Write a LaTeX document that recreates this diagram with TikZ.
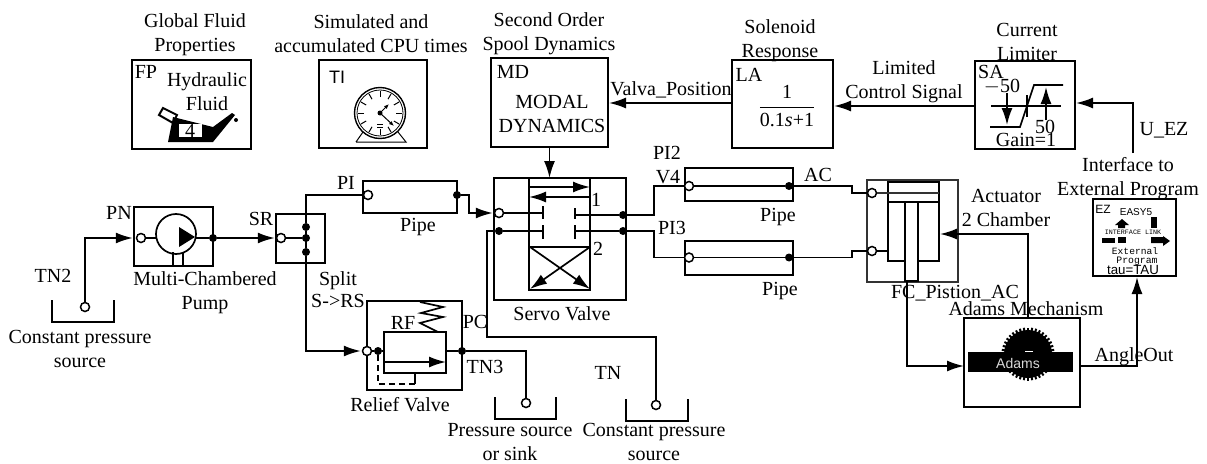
\documentclass[tikz,border=0pt]{standalone}
\usepackage{fontspec}
\setmainfont{Liberation Serif}
\setsansfont{Liberation Sans}
\setmonofont{Liberation Mono}
\usepackage{tikz}
\usetikzlibrary{arrows.meta}
\tikzset{>={Latex[length=17pt,width=11pt]}}
\tikzset{lbl/.style={inner sep=0pt,align=center,font=\fontsize{20}{24}\selectfont}}
\tikzset{blockbox/.style={draw,line width=1.6pt,inner sep=0pt,outer sep=0pt}}
\tikzset{openport/.style={circle,draw,fill=white,line width=1.5pt,minimum size=9pt,inner sep=0pt}}
\tikzset{dot/.style={circle,fill=black,minimum size=8pt,inner sep=0pt}}
\tikzset{flow/.style={line width=1.7pt}}
\tikzset{thinline/.style={line width=1.2pt,black!80}}
\tikzset{tank/.style={line width=2pt}}
\tikzset{heavy/.style={line width=2.5pt}}
\begin{document}
\begin{tikzpicture}[x=1pt,y=-1pt]
\useasboundingbox (0,0) rectangle (1207,463);
% boxes
\node [blockbox,minimum width=119pt,minimum height=89pt] (fp) at (191.5,104.5) {};
\node [blockbox,minimum width=108pt,minimum height=88pt] (ti) at (373,104) {};
\node [blockbox,minimum width=117pt,minimum height=89pt] (md) at (549.5,102.5) {};
\node [blockbox,minimum width=101pt,minimum height=88pt] (la) at (782.5,104) {};
\node [blockbox,minimum width=100pt,minimum height=88pt] (sa) at (1025,105) {};
\node [blockbox,minimum width=79pt,minimum height=59pt] (pn) at (173.5,236.5) {};
\node [blockbox,minimum width=49pt,minimum height=49pt] (sr) at (300.5,238.5) {};
\node [blockbox,minimum width=94pt,minimum height=32pt] (pi) at (410,197) {};
\node [blockbox,minimum width=132pt,minimum height=122pt] (servo) at (560,239) {};
\node [blockbox,minimum width=95pt,minimum height=89pt] (rf) at (414.5,345.5) {};
\node [blockbox,minimum width=108pt,minimum height=33pt] (pi2) at (739,184.5) {};
\node [blockbox,minimum width=108pt,minimum height=34pt] (pi3) at (739,258) {};
\node [blockbox,thinline,minimum width=91pt,minimum height=102pt] (fc) at (912.5,231) {};
\node [blockbox,minimum width=116pt,minimum height=89pt] (ad) at (1022,362.5) {};
\node [blockbox,line width=2pt,minimum width=83pt,minimum height=77pt] (ez) at (1134.5,237.5) {};
% titles
\node [lbl] (fptitle) at (195,35) {Global Fluid\\Properties};
\node [lbl] (tititle) at (371,34) {Simulated and\\accumulated CPU times};
\node [lbl] (mdtitle) at (549,34) {Second Order\\Spool Dynamics};
\node [lbl] (latitle) at (780,41) {Solenoid\\Response};
\node [lbl] (satitle) at (1027,42) {Current\\Limiter};
\node [lbl] (lclabel) at (904,82) {Limited\\Control Signal};
\node [lbl] (vplabel) at (671,90) {Valva\_Position};
\node [lbl] (uzlabel) at (1164,130) {U\_EZ};
\node [lbl] (eztitle) at (1128,179) {Interface to\\External Program};
\node [lbl] (fctitle) at (1006,208) {Actuator\\2 Chamber};
\node [lbl] (fcname) at (955,293) {FC\_Pistion\_AC};
\node [lbl] (adtitle) at (1026,309) {Adams Mechanism};
\node [lbl] (aolabel) at (1134,357) {AngleOut};
\node [lbl] (tn2name) at (53,276) {TN2};
\node [lbl] (pnname) at (119,213) {PN};
\node [lbl] (srname) at (261,219) {SR};
\node [lbl] (pntitle) at (205,293) {Multi-Chambered\\Pump};
\node [lbl] (tn2title) at (80,349) {Constant pressure\\source};
\node [lbl] (piname) at (346,183) {PI};
\node [lbl] (pipea) at (418,227) {Pipe};
\node [lbl] (srtitle) at (338,290) {Split\\[-2pt]S->RS};
\node [lbl] (servotitle) at (562,314) {Servo Valve};
\node [lbl] (rftitle) at (400,405) {Relief Valve};
\node [lbl] (rfname) at (403,323) {RF};
\node [lbl] (pcname) at (475,322) {PC};
\node [lbl] (tn3name) at (485,367) {TN3};
\node [lbl] (tnname) at (608,373) {TN};
\node [lbl] (tn3title) at (510,442) {Pressure source\\or sink};
\node [lbl] (tntitle) at (654,442) {Constant pressure\\source};
\node [lbl] (pi2name) at (667,153) {PI2};
\node [lbl] (v4name) at (668,177) {V4};
\node [lbl] (acname) at (818,175) {AC};
\node [lbl] (pi3name) at (672,228) {PI3};
\node [lbl] (pipeb) at (778,217) {Pipe};
\node [lbl] (pipec) at (780,291) {Pipe};
% inside the top blocks
\node [lbl] (fpname) at (146,72) {FP};
\node [lbl] (fptext) at (207,92) {Hydraulic\\Fluid};
\node [lbl,font=\sffamily\fontsize{18}{18}\selectfont] (tiname) at (337,77) {TI};
\node [lbl] (mdname) at (513,72) {MD};
\node [lbl] (mdtext) at (552,114) {MODAL\\DYNAMICS};
\node [lbl] (laname) at (749,75) {LA};
\node [lbl] (lafrac) at (787,106) {$\displaystyle\frac{\mbox{1}}{\mbox{0.1\itshape s\upshape +1}}$};
\node [lbl] (saname) at (991,72) {SA};
\node [lbl] (salow) at (1002,87) {$-$50};
\node [lbl] (sahigh) at (1045,127) {50};
\node [lbl] (sagain) at (1026,140) {Gain=1};
% oil can
\draw [line width=2pt] (159,115) -- (163,108) -- (177,115) -- (173,123) -- cycle;
\fill (168,142) -- (173,117) -- (213,127) -- (232,113) -- (235,115) -- (213,142) -- cycle;
\fill (236,120) circle (2pt);
\fill [white] (179,124) rectangle (202,137);
\node [lbl,font=\fontsize{20}{20}\selectfont] (cannum) at (190,131) {4};
% clock
\draw [line width=1pt] (356,142) -- (363,132) (398,132) -- (406,142) -- (356,142);
\draw [line width=1.4pt,fill=white] (380,113) circle (25.5);
\draw [line width=0.8pt] (380,113) circle (23);
\foreach \a in {0,30,...,330}
  \draw [line width=1pt] (380,113) +(\a:16) -- +(\a:22);
\fill (380,113) circle (2.5pt);
\draw [line width=1pt,-{Latex[length=5pt,width=4pt]}] (380,113) -- (389,104);
\draw [line width=1pt,-{Latex[length=5pt,width=4pt]}] (380,113) -- (394,126);
\draw [line width=0.8pt] (377,124) -- (383,124) (377,127) -- (383,127);
% limiter
\draw [flow] (991,106) -- (1061,106);
\draw [flow] (990,127) -- (1020,127) -- (1034,85) -- (1063,85);
\draw [flow] (1027,95) -- (1027,117);
\draw [flow,->] (1007,93) -- (1007,125);
\draw [flow,->] (1046,120) -- (1046,87);
% pump
\draw [flow] (176,234) circle (20);
\fill (179,227) -- (195,237) -- (179,247) -- cycle;
\draw [flow] (173,252) -- (173,266) (183,252) -- (183,266);
\node [openport] (pnin) at (141,238) {};
\node [dot] (pnout) at (213,238) {};
\coordinate (pnleft) at (156,238);
\coordinate (pnright) at (196,238);
\draw [flow] (pnin) -- (pnleft);
\draw [flow] (pnright) -- (pnout);
% split
\node [openport] (srin) at (281,238) {};
\node [dot] (srtop) at (306,227) {};
\node [dot] (srmid) at (306,238) {};
\node [dot] (srlow) at (306,252) {};
\draw [flow] (srin) -- (srmid);
\draw [flow] (srtop) -- (srlow);
% pipes
\node [openport] (piin) at (368,195) {};
\node [dot] (piout) at (457,195) {};
\node [openport] (pi2in) at (689,186) {};
\node [dot] (pi2out) at (789,186) {};
\node [openport] (pi3in) at (689,257.5) {};
\node [dot] (pi3out) at (789,257.5) {};
\draw [flow] (pi2in) -- (pi2out);
\draw [flow] (pi3in) -- (pi3out);
% servo valve
\draw [flow] (529,178) rectangle (590,290);
\draw [flow] (529,247) -- (590,247);
\node [lbl] (portone) at (596,200) {1};
\node [lbl] (porttwo) at (598,249) {2};
\draw [flow,->] (529,187) -- (590,187);
\draw [flow,->] (590,197) -- (529,197);
\draw [flow,->] (530,247) -- (590,289);
\draw [flow,->] (590,247) -- (530,289);
\node [openport] (vin) at (499,213) {};
\node [dot] (vret) at (499,231) {};
\node [dot] (vouta) at (623,215) {};
\node [dot] (voutb) at (623,231) {};
\coordinate (barvin) at (543,213);
\coordinate (barvret) at (543,231);
\coordinate (barouta) at (575,215);
\coordinate (baroutb) at (575,231);
\draw [flow] (543,206) -- (543,219) (543,225) -- (543,239);
\draw [flow] (575,208) -- (575,219) (575,225) -- (575,239);
\draw [flow] (vin) -- (barvin);
\draw [flow] (vret) -- (barvret);
\draw [flow] (barouta) -- (vouta);
\draw [flow] (baroutb) -- (voutb);
% relief valve
\draw [flow] (384,332) rectangle (446,373);
\draw [flow,->] (384,362) -- (446,362);
\draw [flow] (420,302) -- (443,307) -- (421,313) -- (443,317) -- (420,323) -- (438,332);
\node [openport] (rfin) at (367,351) {};
\node [dot] (rfdot) at (378,351) {};
\node [dot] (rfout) at (462,351) {};
\coordinate (rfleft) at (384,351);
\coordinate (rfright) at (446,351);
\draw [flow] (rfin) -- (rfdot) -- (rfleft);
\draw [flow] (rfright) -- (rfout);
\draw [flow,dash pattern=on 6pt off 4pt] (rfdot) -- (378,384) -- (415,384);
\draw [flow] (415,384) -- (415,373);
% tanks
\draw [tank] (52,300) -- (52,322) -- (114,322) -- (114,300);
\draw [tank] (495,397) -- (495,419) -- (556,419) -- (556,397);
\draw [tank] (626,399) -- (626,421) -- (688,421) -- (688,399);
\node [openport] (tn2port) at (85,307) {};
\node [openport] (tn3port) at (526,403) {};
\node [openport] (tnport) at (656,405) {};
% actuator
\node [openport] (fcina) at (872,193) {};
\node [openport] (fcinb) at (872,251) {};
\draw [heavy] (888,182) rectangle (939,261);
\draw [thinline] (fcina) -- (939,193);
\draw [flow] (fcinb) -- (888,251);
\draw [heavy] (888,202) -- (939,202);
\draw [heavy,fill=white] (905,202) rectangle (918,281);
% adams
\foreach \a in {0,9,...,351}
  \draw [line width=2pt] (1028,354) +(\a:22) -- +(\a:26.5);
\fill (1028,354) circle (24);
\fill (968,352) rectangle (1073,372);
\fill [white] (1025,351) rectangle (1033,352);
\node [lbl,font=\sffamily\fontsize{14}{14}\selectfont,text=white!85!black] (adtext) at (1018,363) {Adams};
% easy5 icon
\node [lbl,font=\sffamily\fontsize{12}{12}\selectfont] (ezname) at (1103,209) {EZ};
\node [lbl,font=\sffamily\fontsize{10}{10}\selectfont] (ezbrand) at (1136,212) {EASY5};
\node [lbl,font=\ttfamily\fontsize{6.7}{7}\selectfont] (ezlink) at (1133,232) {INTERFACE LINK};
\node [lbl,font=\ttfamily\fontsize{9.6}{9.6}\selectfont] (eztexta) at (1135,251) {External};
\node [lbl,font=\ttfamily\fontsize{9.8}{9.8}\selectfont] (eztextb) at (1137,261) {Program};
\node [lbl,font=\sffamily\fontsize{13.3}{13.3}\selectfont] (eztau) at (1133,270) {tau=TAU};
\fill (1122,219) -- (1129,225) -- (1125,225) -- (1125,228) -- (1118,228) -- (1118,225) -- (1115,225) -- cycle;
\fill (1151,217) rectangle (1157,228);
\fill (1102,238) rectangle (1115,243);
\fill (1118,237) rectangle (1126,243);
\fill (1151,237) -- (1163,237) -- (1163,236) -- (1170,241) -- (1163,246) -- (1163,243) -- (1151,243) -- cycle;
% connector ends
\coordinate (lavout) at (732,103);
\coordinate (mdvin) at (609,103);
\coordinate (lavin) at (834,106);
\coordinate (salim) at (975,106);
\coordinate (sain) at (1076,103);
\coordinate (ezup) at (1133,153);
\coordinate (fcrod) at (907,282);
\coordinate (adin) at (964,366);
\coordinate (adout) at (1080,366);
\coordinate (ezin) at (1137,277);
\coordinate (adtop) at (1028,318);
\coordinate (fcback) at (940,234);
\coordinate (v4up) at (654,186);
\coordinate (v4low) at (654,215);
\coordinate (pi3up) at (654,231);
\coordinate (pi3low) at (654,257.5);
\coordinate (acup) at (852,186);
\coordinate (aclow) at (852,193);
\coordinate (bcup) at (852,257.5);
\coordinate (bclow) at (852,251);
% connectors
\draw [flow,->] (lavout) -- (mdvin);
\draw [flow,->] (salim) -- (lavin);
\draw [flow,->] (ezup) |- (sain);
\draw [flow,->] (md.south) -- (md.south |- servo.north);
\draw [flow,->,shorten >=3pt] (tn2port) |- (pnin);
\draw [flow,->,shorten >=1pt] (pnout) -- (srin);
\draw [flow] (piin) -| (srtop);
\draw [flow,->,shorten >=1pt] (srlow) |- (rfin);
\draw [flow,->,shorten >=1pt] (piout) -- ++(12,0) |- (vin);
\draw [flow] (vret) -- (487,231) |- (656,337) -- (tnport);
\draw [flow] (rfout) -| (tn3port);
\draw [flow] (vouta) -- (v4low) -- (v4up) -- (pi2in);
\draw [flow] (voutb) -- (pi3up) -- (pi3low) -- (pi3in);
\draw [flow] (pi2out) -- (acup) -- (aclow) -- (fcina);
\draw [flow] (pi3out) -- (bcup) -- (bclow) -- (fcinb);
\draw [flow,->] (fcrod) |- (adin);
\draw [flow,->] (adout) -| (ezin);
\draw [flow,->] (adtop) |- (fcback);
\end{tikzpicture}
\end{document}
